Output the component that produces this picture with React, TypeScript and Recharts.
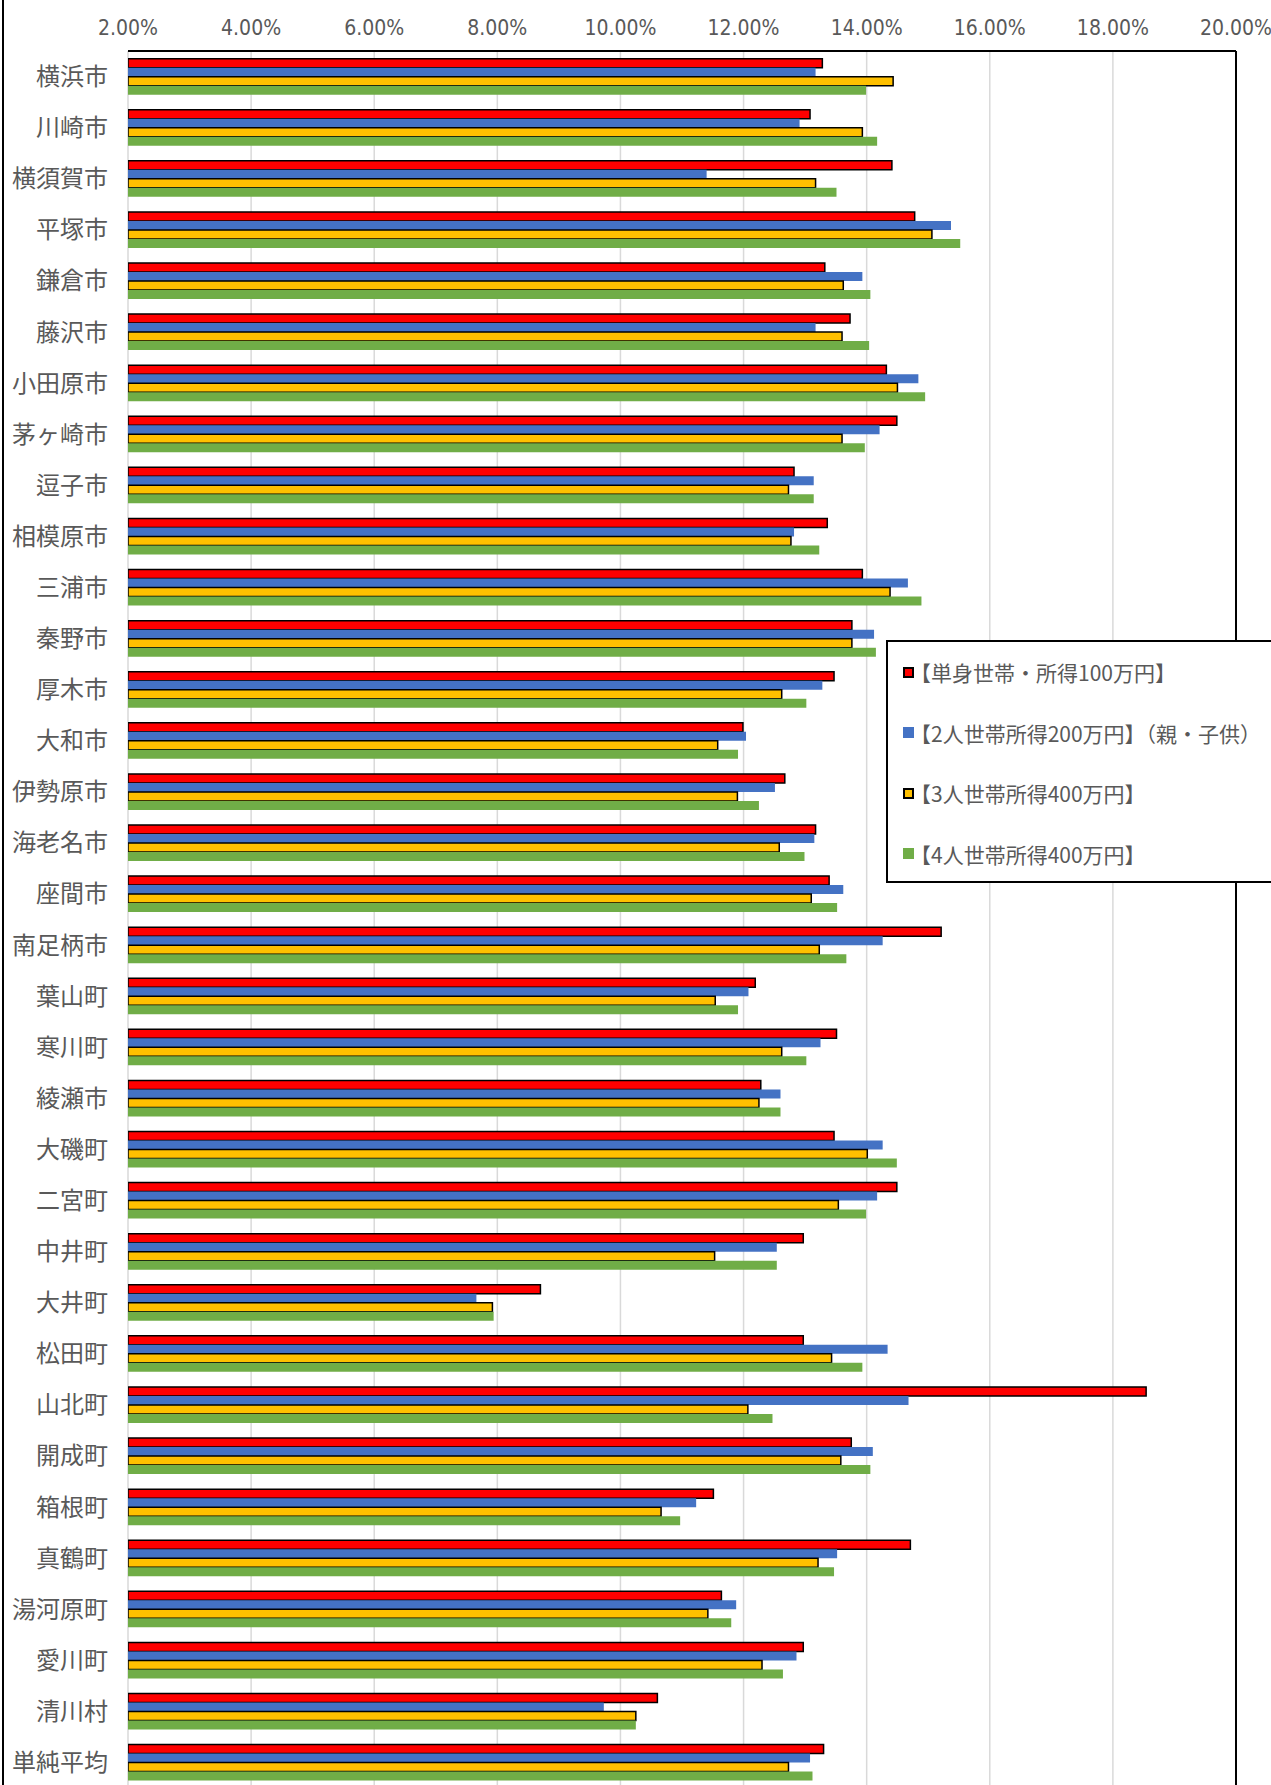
import { BarChart, Bar, XAxis, YAxis, CartesianGrid, ReferenceLine } from 'recharts'

const CITIES = [
  '横浜市', '川崎市', '横須賀市', '平塚市', '鎌倉市', '藤沢市', '小田原市', '茅ヶ崎市', '逗子市',
  '相模原市', '三浦市', '秦野市', '厚木市', '大和市', '伊勢原市', '海老名市', '座間市', '南足柄市',
  '葉山町', '寒川町', '綾瀬市', '大磯町', '二宮町', '中井町', '大井町', '松田町', '山北町',
  '開成町', '箱根町', '真鶴町', '湯河原町', '愛川町', '清川村', '単純平均',
]

const single100 = [
  13.28, 13.08, 14.41, 14.78, 13.32, 13.73, 14.32, 14.49, 12.82, 13.36, 13.93, 13.76, 13.47, 11.99,
  12.67, 13.17, 13.39, 15.21, 12.19, 13.51, 12.28, 13.47, 14.49, 12.97, 8.7, 12.97, 18.54, 13.75,
  11.51, 14.71, 11.64, 12.97, 10.6, 13.3,
]
const two200 = [
  13.17, 12.91, 11.4, 15.37, 13.93, 13.17, 14.84, 14.21, 13.14, 12.82, 14.67, 14.12, 13.28, 12.04,
  12.51, 13.15, 13.62, 14.26, 12.08, 13.25, 12.6, 14.26, 14.17, 12.54, 7.66, 14.34, 14.68, 14.1,
  11.23, 13.52, 11.88, 12.86, 9.73, 13.08,
]
const three400 = [
  14.43, 13.93, 13.17, 15.06, 13.62, 13.6, 14.5, 13.6, 12.73, 12.77, 14.38, 13.76, 12.62, 11.58,
  11.9, 12.58, 13.1, 13.23, 11.54, 12.62, 12.25, 14.01, 13.54, 11.53, 7.92, 13.43, 12.07, 13.58,
  10.66, 13.21, 11.42, 12.3, 10.25, 12.73,
]
const four400 = [
  13.99, 14.17, 13.51, 15.52, 14.06, 14.04, 14.95, 13.97, 13.14, 13.23, 14.89, 14.15, 13.02, 11.91,
  12.25, 12.99, 13.52, 13.67, 11.91, 13.02, 12.6, 14.49, 13.99, 12.54, 7.94, 13.93, 12.47, 14.06,
  10.97, 13.47, 11.8, 12.64, 10.25, 13.12,
]

const X_TICKS = [2, 4, 6, 8, 10, 12, 14, 16, 18, 20]

const SERIES = [
  { key: 'single100', label: '【単身世帯・所得100万円】', color: '#ff0000', outlined: true },
  { key: 'two200', label: '【2人世帯所得200万円】（親・子供）', color: '#4472c4', outlined: false },
  { key: 'three400', label: '【3人世帯所得400万円】', color: '#ffc000', outlined: true },
  { key: 'four400', label: '【4人世帯所得400万円】', color: '#70ad47', outlined: false },
]

const data = CITIES.map((name, i) => ({
  name,
  single100: single100[i],
  two200: two200[i],
  three400: three400[i],
  four400: four400[i],
}))

const JP_FONT = "'Noto Sans CJK JP', 'Noto Sans', sans-serif"
const NUM_FONT = "'Liberation Sans Narrow', 'DejaVu Sans Condensed', sans-serif"
const TEXT = '#595959'

// legend sits on top of the plot, like the Excel one
function LegendBox() {
  return (
    <div
      style={{
        position: 'absolute',
        left: 886,
        top: 640,
        width: 420,
        height: 243,
        boxSizing: 'border-box',
        border: '2px solid #000',
        background: '#fff',
        fontFamily: JP_FONT,
        fontSize: 21,
        color: TEXT,
      }}
    >
      {SERIES.map((s) => (
        <div key={s.key} style={{ display: 'flex', alignItems: 'center', height: 60.5, paddingLeft: 15 }}>
          <span
            style={{
              display: 'inline-block',
              width: 11,
              height: 11,
              boxSizing: 'border-box',
              background: s.color,
              border: s.outlined ? '2px solid #000' : 'none',
              marginRight: -4,
            }}
          />
          <span style={{ whiteSpace: 'nowrap' }}>{s.label}</span>
        </div>
      ))}
    </div>
  )
}

export default function App() {
  return (
    <div style={{ position: 'absolute', left: 0, top: 0, width: 1271, height: 1785, overflow: 'hidden', background: '#fff' }}>
      <div style={{ position: 'absolute', left: 2, top: 0, width: 2, height: 1785, background: '#000' }} />
      <BarChart
        width={1271}
        height={1790}
        data={data}
        layout="vertical"
        margin={{ top: 20, right: 35, bottom: 2, left: 8 }}
        barCategoryGap="15%"
        barGap={0}
      >
        <CartesianGrid horizontal={false} stroke="#d9d9d9" strokeWidth={1.5} />
        <XAxis
          type="number"
          orientation="top"
          domain={[2, 20]}
          ticks={X_TICKS}
          allowDataOverflow
          height={31}
          tickFormatter={(v: number) => v.toFixed(2) + '%'}
          tick={{ fill: TEXT, fontSize: 21, fontFamily: NUM_FONT }}
          tickLine={false}
          tickMargin={10}
          axisLine={{ stroke: '#000', strokeWidth: 2 }}
        />
        <YAxis
          type="category"
          dataKey="name"
          width={120}
          interval={0}
          tickLine={false}
          axisLine={false}
          tickSize={0}
          tickMargin={20}
          tick={{ fill: TEXT, fontSize: 24, fontFamily: JP_FONT }}
        />
        <ReferenceLine x={20} stroke="#000" strokeWidth={2} />
        {SERIES.map((s) => (
          <Bar
            key={s.key}
            dataKey={s.key}
            fill={s.color}
            stroke={s.outlined ? '#000' : 'none'}
            strokeWidth={s.outlined ? 1.5 : 0}
            isAnimationActive={false}
          />
        ))}
      </BarChart>
      <LegendBox />
    </div>
  )
}
